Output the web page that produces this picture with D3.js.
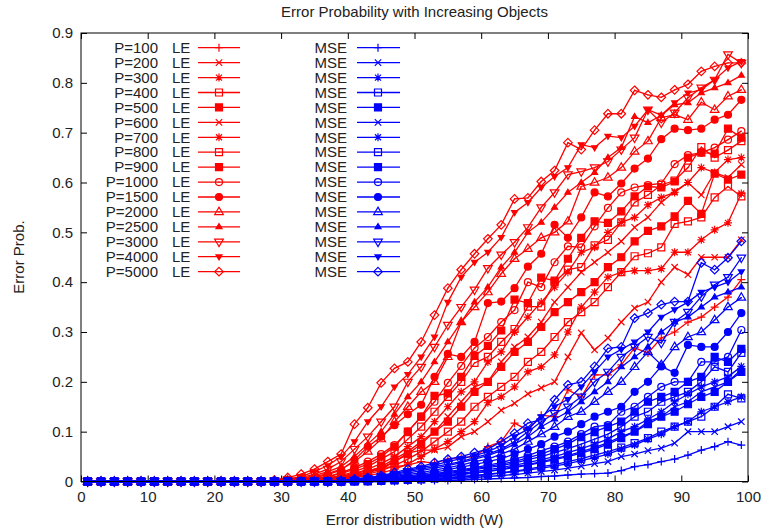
<!DOCTYPE html>
<html>
<head>
<meta charset="utf-8">
<script src="https://cdn.jsdelivr.net/npm/d3@7"></script>
<style>
body { margin: 0; background: #fff; }
text { font-family: "Liberation Sans", Arial, sans-serif; fill: #222; }
</style>
</head>
<body>
<div id="chart"></div>
<script>
// error distribution width, one point every 2 units
var widths = [1,3,5,7,9,11,13,15,17,19,21,23,25,27,29,31,33,35,37,39,41,43,45,47,49,51,53,55,57,59,61,63,65,67,69,71,73,75,77,79,81,83,85,87,89,91,93,95,97,99];

var xTicks = [0,10,20,30,40,50,60,70,80,90,100];
var yTicks = [0,0.1,0.2,0.3,0.4,0.5,0.6,0.7,0.8,0.9];

var popLabels = ["P=100","P=200","P=300","P=400","P=500","P=600","P=700","P=800","P=900","P=1000","P=1500","P=2000","P=2500","P=3000","P=4000","P=5000"];
var markerTypes = ["plus","cross","star","osquare","fsquare","cross","star","osquare","fsquare","ocircle","fcircle","otri","ftri","odtri","fdtri","odiamond"];

// LE error probability
var le100  = [0,0,0,0,0,0,0,0,0,0,0,0,0,0, 0,0,.002,.004,.007,.011,.016,.022,.028,.03,.033,.04,.037,.045,.048,.05,.07,.08,.117,.103,.133,.13,.184,.17,.214,.214,.234,.268,.258,.288,.3,.32,.33,.35,.37,.405];
var le200  = [0,0,0,0,0,0,0,0,0,0,0,0,0,0, 0,0,.001,.002,.004,.008,.012,.018,.025,.04,.057,.063,.063,.069,.09,.1,.12,.143,.157,.176,.188,.2,.25,.298,.264,.288,.32,.348,.36,.4,.43,.415,.45,.45,.45,.485];
var le300  = [0,0,0,0,0,0,0,0,0,0,0,0,0,0, 0,0,.001,.002,.003,.005,.008,.012,.017,.025,.035,.05,.065,.08,.1,.12,.158,.17,.19,.22,.23,.254,.3,.35,.38,.41,.42,.423,.423,.427,.46,.46,.485,.505,.519,.578];
var le400  = [0,0,0,0,0,0,0,0,0,0,0,0,0,0, 0,0,.001,.002,.004,.006,.01,.015,.022,.032,.045,.06,.08,.1,.12,.15,.17,.19,.21,.24,.26,.29,.32,.34,.36,.39,.42,.452,.458,.47,.517,.522,.53,.57,.592,.572];
var le500  = [0,0,0,0,0,0,0,0,0,0,0,0,0,0, 0,.001,.002,.003,.005,.008,.012,.018,.028,.04,.055,.075,.1,.12,.15,.18,.2,.23,.26,.28,.31,.34,.36,.38,.4,.43,.45,.482,.503,.512,.532,.563,.537,.618,.606,.616];
var le600  = [0,0,0,0,0,0,0,0,0,0,0,0,0,0, 0,.001,.002,.003,.005,.008,.013,.02,.03,.045,.06,.08,.1,.13,.16,.19,.2,.24,.27,.29,.32,.36,.39,.42,.44,.46,.482,.51,.53,.56,.582,.6,.575,.62,.61,.636];
var le700  = [0,0,0,0,0,0,0,0,0,0,0,0,0,0, 0,.001,.002,.003,.006,.01,.016,.025,.036,.05,.07,.09,.12,.15,.18,.2,.24,.26,.3,.33,.36,.39,.42,.46,.47,.5,.52,.53,.555,.57,.58,.6,.63,.62,.646,.65];
var le800  = [0,0,0,0,0,0,0,0,0,0,0,0,0,0, 0,.001,.002,.004,.007,.012,.02,.03,.045,.06,.085,.11,.14,.17,.2,.238,.25,.28,.306,.351,.351,.4,.425,.43,.474,.485,.52,.56,.575,.595,.604,.63,.671,.65,.665,.683];
var le900  = [0,0,0,0,0,0,0,0,0,0,0,0,0,0, .001,.002,.003,.005,.01,.016,.025,.035,.05,.07,.1,.13,.172,.177,.21,.252,.272,.303,.365,.358,.409,.403,.447,.489,.522,.519,.542,.572,.592,.59,.602,.65,.66,.658,.708,.69];
var le1000 = [0,0,0,0,0,0,0,0,0,0,0,0,0,0, .001,.002,.003,.006,.01,.018,.028,.04,.055,.073,.1,.13,.16,.198,.232,.268,.29,.32,.344,.4,.39,.44,.472,.47,.512,.549,.58,.59,.595,.598,.637,.655,.66,.67,.686,.703];
var le1500 = [0,0,0,0,0,0,0,0,0,0,0,0,0,0, .001,.002,.004,.008,.014,.023,.043,.07,.09,.113,.135,.154,.21,.256,.25,.28,.358,.361,.388,.431,.457,.515,.489,.53,.58,.572,.598,.628,.648,.687,.708,.705,.708,.726,.736,.766];
var le2000 = [0,0,0,0,0,0,0,0,0,0,0,0,0,0, .001,.002,.005,.01,.016,.025,.04,.06,.085,.12,.15,.18,.2,.25,.32,.35,.38,.417,.447,.467,.489,.5,.522,.592,.6,.61,.63,.662,.683,.73,.736,.726,.761,.746,.773,.786];
var le2500 = [0,0,0,0,0,0,0,0,0,0,0,0,0,0, .001,.003,.006,.012,.02,.03,.05,.075,.1,.135,.17,.2,.24,.28,.32,.36,.39,.43,.46,.5,.52,.55,.58,.6,.62,.65,.67,.732,.72,.735,.756,.76,.78,.79,.8,.815];
var le3000 = [0,0,0,0,0,0,0,0,0,0,0,0,0,0, .002,.004,.008,.015,.025,.04,.065,.09,.12,.15,.2,.23,.27,.314,.35,.385,.428,.455,.48,.51,.55,.58,.616,.622,.63,.642,.666,.69,.746,.72,.74,.77,.79,.806,.857,.84];
var le4000 = [0,0,0,0,0,0,0,0,0,0,0,0,0,0, .002,.005,.01,.02,.032,.05,.08,.12,.15,.19,.215,.25,.29,.36,.41,.44,.46,.49,.54,.56,.59,.612,.63,.676,.67,.693,.69,.713,.746,.735,.76,.78,.786,.806,.83,.843];
var le5000 = [0,0,0,0,0,0,0,0,0,0,0,0,0,0, .003,.008,.015,.025,.04,.055,.115,.148,.198,.227,.24,.28,.334,.388,.425,.457,.487,.515,.567,.569,.602,.624,.68,.666,.705,.738,.738,.785,.776,.771,.786,.797,.823,.833,.84,.84];

// MSE error probability
var mse100  = [0,0,0,0,0,0,0,0,0,0,0,0,0,0,0,0,0,0,0, 0,0,0,0,0,.001,.001,.002,.002,.003,.004,.005,.006,.007,.008,.01,.011,.013,.015,.016,.017,.022,.03,.034,.04,.045,.053,.063,.07,.08,.073];
var mse200  = [0,0,0,0,0,0,0,0,0,0,0,0,0,0,0,0,0,0,0, 0,0,0,0,.001,.002,.003,.004,.005,.006,.008,.01,.012,.014,.017,.02,.023,.027,.031,.036,.04,.05,.055,.062,.067,.077,.1,.1,.1,.11,.12];
var mse300  = [0,0,0,0,0,0,0,0,0,0,0,0,0,0,0,0,0,0,0, 0,0,0,.001,.002,.003,.004,.005,.007,.009,.011,.014,.017,.02,.023,.027,.031,.036,.042,.048,.055,.065,.073,.085,.095,.11,.12,.14,.15,.16,.17];
var mse400  = [0,0,0,0,0,0,0,0,0,0,0,0,0,0,0,0,0,0,0, 0,0,0,.001,.002,.003,.004,.006,.008,.01,.012,.015,.018,.021,.025,.03,.034,.04,.046,.053,.06,.068,.077,.087,.1,.11,.12,.13,.15,.175,.167];
var mse500  = [0,0,0,0,0,0,0,0,0,0,0,0,0,0,0,0,0,0,0, 0,0,.001,.002,.003,.004,.006,.008,.011,.014,.017,.02,.024,.028,.033,.038,.044,.05,.057,.065,.075,.087,.1,.115,.13,.14,.155,.17,.18,.2,.22];
var mse600  = [0,0,0,0,0,0,0,0,0,0,0,0,0,0,0,0,0,0,0, 0,0,.001,.002,.003,.005,.007,.01,.012,.015,.018,.021,.025,.03,.034,.04,.046,.052,.06,.068,.078,.09,.1,.12,.13,.15,.16,.18,.19,.2,.225];
var mse700  = [0,0,0,0,0,0,0,0,0,0,0,0,0,0,0,0,0,0,0, 0,0,.001,.002,.004,.006,.008,.011,.014,.017,.02,.024,.028,.033,.038,.044,.05,.058,.066,.075,.085,.1,.11,.125,.14,.16,.175,.19,.2,.21,.231];
var mse800  = [0,0,0,0,0,0,0,0,0,0,0,0,0,0,0,0,0,0,0, 0,.001,.002,.003,.004,.007,.01,.013,.016,.02,.024,.028,.032,.037,.044,.05,.058,.066,.075,.085,.095,.11,.13,.14,.16,.17,.18,.2,.23,.22,.258];
var mse900  = [0,0,0,0,0,0,0,0,0,0,0,0,0,0,0,0,0,0,0, 0,.001,.002,.003,.005,.008,.011,.014,.018,.022,.026,.03,.035,.04,.048,.055,.065,.075,.09,.1,.11,.12,.14,.16,.17,.18,.2,.21,.25,.24,.266];
var mse1000 = [0,0,0,0,0,0,0,0,0,0,0,0,0,0,0,0,0,0,0, 0,.001,.002,.004,.006,.009,.012,.016,.02,.024,.028,.033,.038,.045,.052,.062,.07,.08,.095,.11,.113,.14,.15,.17,.19,.2,.2,.24,.24,.25,.304];
var mse1500 = [0,0,0,0,0,0,0,0,0,0,0,0,0,0,0,0,0,0,0, 0,.001,.003,.005,.008,.011,.015,.019,.024,.029,.034,.04,.046,.055,.065,.075,.09,.1,.115,.13,.14,.15,.18,.2,.231,.218,.274,.27,.27,.3,.338];
var mse2000 = [0,0,0,0,0,0,0,0,0,0,0,0,0,0,0,0,0,0,0, .001,.002,.004,.007,.01,.014,.018,.023,.028,.033,.04,.045,.055,.065,.08,.095,.11,.13,.14,.16,.18,.2,.23,.26,.234,.27,.29,.3,.324,.35,.369];
var mse2500 = [0,0,0,0,0,0,0,0,0,0,0,0,0,0,0,0,0,0,0, .001,.003,.005,.008,.012,.017,.022,.027,.032,.038,.045,.052,.062,.075,.09,.11,.125,.14,.16,.18,.2,.23,.25,.27,.3,.32,.33,.35,.37,.38,.39];
var mse3000 = [0,0,0,0,0,0,0,0,0,0,0,0,0,0,0,0,0,0,0, .001,.003,.006,.01,.014,.02,.025,.03,.035,.04,.048,.055,.065,.08,.1,.12,.137,.15,.17,.2,.22,.25,.27,.29,.278,.32,.34,.371,.395,.41,.449];
var mse4000 = [0,0,0,0,0,0,0,0,0,0,0,0,0,0,0,0,0,0,0, .002,.004,.007,.011,.016,.022,.028,.033,.04,.046,.052,.06,.072,.09,.105,.13,.15,.165,.19,.22,.25,.265,.28,.3,.33,.345,.36,.38,.39,.4,.421];
var mse5000 = [0,0,0,0,0,0,0,0,0,0,0,0,0,0,0,0,0,0,0, .002,.005,.008,.012,.018,.025,.03,.038,.045,.05,.058,.065,.08,.097,.117,.124,.164,.194,.2,.231,.267,.27,.328,.338,.355,.361,.361,.439,.425,.449,.482];

var leData = [le100,le200,le300,le400,le500,le600,le700,le800,le900,le1000,le1500,le2000,le2500,le3000,le4000,le5000];
var mseData = [mse100,mse200,mse300,mse400,mse500,mse600,mse700,mse800,mse900,mse1000,mse1500,mse2000,mse2500,mse3000,mse4000,mse5000];

var width = 761, height = 531;
var margin = {top: 33, right: 13, bottom: 49.5, left: 81};
var fontSize = "15px";

var svg = d3.select("#chart").append("svg")
	.attr("width", width)
	.attr("height", height);

var x = d3.scaleLinear().domain([0,100]).range([margin.left, width - margin.right]);
var y = d3.scaleLinear().domain([0,0.9]).range([height - margin.bottom, margin.top]);

// marker path strings, centred on 0,0
function markerPath(type) {
	var p = d3.path();
	if (type == "plus") {
		p.moveTo(-4,0); p.lineTo(4,0); p.moveTo(0,-4); p.lineTo(0,4);
	} else if (type == "cross") {
		p.moveTo(-3.2,-3.2); p.lineTo(3.2,3.2); p.moveTo(-3.2,3.2); p.lineTo(3.2,-3.2);
	} else if (type == "star") {
		p.moveTo(-4,0); p.lineTo(4,0); p.moveTo(0,-4); p.lineTo(0,4);
		p.moveTo(-3,-3); p.lineTo(3,3); p.moveTo(-3,3); p.lineTo(3,-3);
	} else if (type == "osquare" || type == "fsquare") {
		p.rect(-3.5,-3.5,7,7);
	} else if (type == "ocircle" || type == "fcircle") {
		p.arc(0,0,3.5,0,2*Math.PI);
	} else if (type == "otri") {
		p.moveTo(0,-4.8); p.lineTo(4.3,2.6); p.lineTo(-4.3,2.6); p.closePath();
	} else if (type == "ftri") {
		p.moveTo(0,-3.2); p.lineTo(3,1.8); p.lineTo(-3,1.8); p.closePath();
	} else if (type == "odtri") {
		p.moveTo(0,4.8); p.lineTo(4.3,-2.6); p.lineTo(-4.3,-2.6); p.closePath();
	} else if (type == "fdtri") {
		p.moveTo(0,3.2); p.lineTo(3,-1.8); p.lineTo(-3,-1.8); p.closePath();
	} else if (type == "odiamond") {
		p.moveTo(0,-4.3); p.lineTo(4.3,0); p.lineTo(0,4.3); p.lineTo(-4.3,0); p.closePath();
	}
	return p.toString();
}

function drawMarker(g, type, color) {
	var filled = type.charAt(0) == "f";
	g.append("path")
		.attr("d", markerPath(type))
		.attr("fill", filled ? color : "none")
		.attr("stroke", color)
		.attr("stroke-width", 1.2);
	if (type.charAt(0) == "o") {
		// gnuplot puts a dot in the middle of open points
		g.append("rect").attr("x",-0.6).attr("y",-0.6).attr("width",1.2).attr("height",1.2).attr("fill", color);
	}
}

var line = d3.line()
	.x(function(d, i) { return x(widths[i]); })
	.y(function(d) { return y(d); });

function drawSeries(data, color) {
	data.forEach(function(vals, k) {
		var g = svg.append("g").attr("class", "series");
		g.append("path")
			.datum(vals)
			.attr("d", line)
			.attr("fill", "none")
			.attr("stroke", color)
			.attr("stroke-width", 1.3);
		g.selectAll("g.pt")
			.data(vals)
			.enter().append("g")
			.attr("class", "pt")
			.attr("transform", function(d, i) { return "translate(" + x(widths[i]) + "," + y(d) + ")"; })
			.each(function() { drawMarker(d3.select(this), markerTypes[k], color); });
	});
}

// axes, ticks pointing inwards and mirrored
var axisStyle = function(g) {
	g.select(".domain").remove();
	g.selectAll(".tick line").attr("stroke", "#000");
	g.selectAll(".tick text").style("font-size", fontSize).attr("fill", "#222");
};

svg.append("g")
	.attr("transform", "translate(0," + y(0) + ")")
	.call(d3.axisBottom(x).tickValues(xTicks).tickSize(-6).tickPadding(10).tickFormat(d3.format("d")))
	.call(axisStyle);

svg.append("g")
	.attr("transform", "translate(0," + y(0.9) + ")")
	.call(d3.axisTop(x).tickValues(xTicks).tickSize(-6).tickFormat(""))
	.call(axisStyle);

svg.append("g")
	.attr("transform", "translate(" + x(0) + ",0)")
	.call(d3.axisLeft(y).tickValues(yTicks).tickSize(-6).tickPadding(8).tickFormat(function(d) { return d == 0 ? "0" : d3.format(".1f")(d); }))
	.call(axisStyle);

svg.append("g")
	.attr("transform", "translate(" + x(100) + ",0)")
	.call(d3.axisRight(y).tickValues(yTicks).tickSize(-6).tickFormat(""))
	.call(axisStyle);

drawSeries(leData, "#ff0000");
drawSeries(mseData, "#0000ff");

svg.append("rect")
	.attr("x", x(0)).attr("y", y(0.9))
	.attr("width", x(100) - x(0)).attr("height", y(0) - y(0.9))
	.attr("fill", "none").attr("stroke", "#000").attr("stroke-width", 1);

// key, two columns
var keyTop = 47.7, keyStep = 14.93;
var key = svg.append("g").attr("class", "key");
popLabels.forEach(function(lab, i) {
	var ky = keyTop + i * keyStep;
	key.append("text").attr("x", 158).attr("y", ky).attr("dy", "0.35em")
		.attr("text-anchor", "end").style("font-size", fontSize).text(lab);
	key.append("text").attr("x", 172).attr("y", ky).attr("dy", "0.35em")
		.style("font-size", fontSize).text("LE");
	key.append("line").attr("x1", 198).attr("x2", 240).attr("y1", ky).attr("y2", ky)
		.attr("stroke", "#ff0000").attr("stroke-width", 1.3);
	drawMarker(key.append("g").attr("transform", "translate(219," + ky + ")"), markerTypes[i], "#ff0000");

	key.append("text").attr("x", 347).attr("y", ky).attr("dy", "0.35em")
		.attr("text-anchor", "end").style("font-size", fontSize).text("MSE");
	key.append("line").attr("x1", 357).attr("x2", 400).attr("y1", ky).attr("y2", ky)
		.attr("stroke", "#0000ff").attr("stroke-width", 1.3);
	drawMarker(key.append("g").attr("transform", "translate(378," + ky + ")"), markerTypes[i], "#0000ff");
});

svg.append("text")
	.attr("x", 414.5).attr("y", 17)
	.attr("text-anchor", "middle").style("font-size", fontSize)
	.text("Error Probability with Increasing Objects");

svg.append("text")
	.attr("x", 414.5).attr("y", 525)
	.attr("text-anchor", "middle").style("font-size", fontSize)
	.text("Error distribution width (W)");

svg.append("text")
	.attr("transform", "translate(24,257) rotate(-90)")
	.attr("text-anchor", "middle").style("font-size", fontSize)
	.text("Error Prob.");
</script>
</body>
</html>
